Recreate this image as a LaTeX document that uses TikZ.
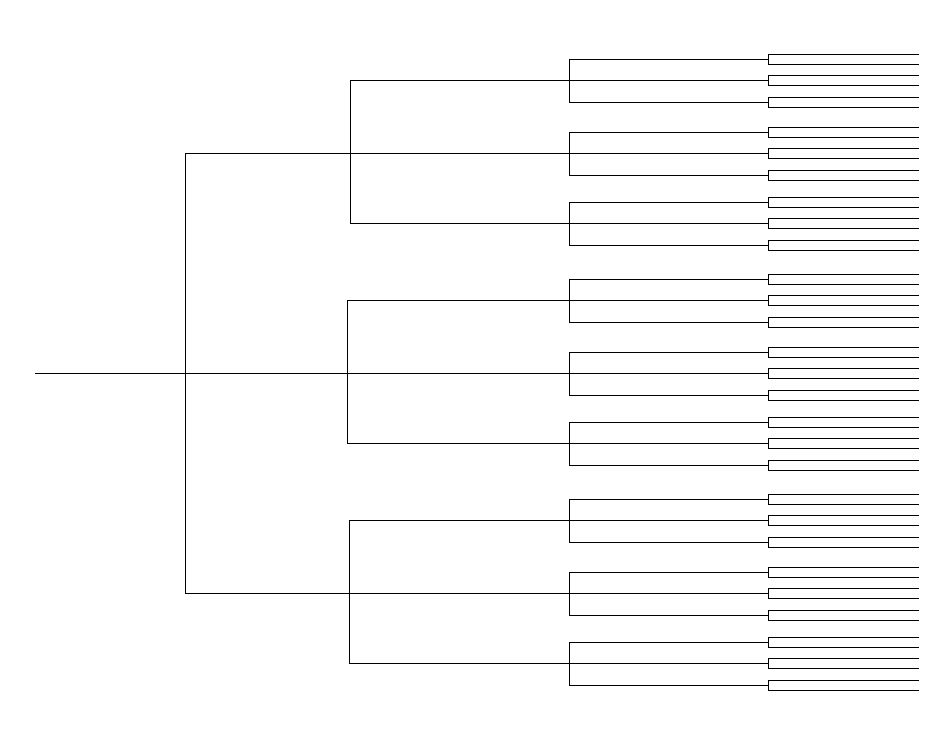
\documentclass[tikz,border=0pt]{standalone}
\usetikzlibrary{calc}
\tikzset{branch/.style={line width=0.9pt, black}}
\begin{document}
\begin{tikzpicture}[x=1pt,y=-1pt]
\useasboundingbox (0,0) rectangle (950,735);
% root
\coordinate (root) at (35,373);
\coordinate (fork) at (185,373);
\draw[branch] (root) -- (fork);
\draw[branch] (185,153) -- (185,593);
\foreach \i/\y/\xb in {1/153/350,2/373/347,3/593/349}{
  \coordinate (n\i) at (185,\y);
  \draw[branch] (\xb,\y-73) -- (\xb,\y+70);
  \foreach \j/\dy in {1/-73,2/0,3/70}{
    \coordinate (n\i\j) at (\xb,\y+\dy);
    \coordinate (m\i\j) at (569,\y+\dy);
    \draw[branch] (n\i\j) -- (m\i\j);
    \draw[branch] (569,\y+\dy-21) -- (569,\y+\dy+22);
    \foreach \k/\ddy in {1/-21,2/0,3/22}{
      \coordinate (p\i\j\k) at (569,\y+\dy+\ddy);
      \coordinate (q\i\j\k) at (768,\y+\dy+\ddy);
      \draw[branch] (p\i\j\k) -- (q\i\j\k);
      \draw[branch] (919,\y+\dy+\ddy-5) -- (768,\y+\dy+\ddy-5)
        -- (768,\y+\dy+\ddy+5) -- (919,\y+\dy+\ddy+5);
    }
  }
  \draw[branch] (n\i) -- (n\i2);
}
\end{tikzpicture}
\end{document}
